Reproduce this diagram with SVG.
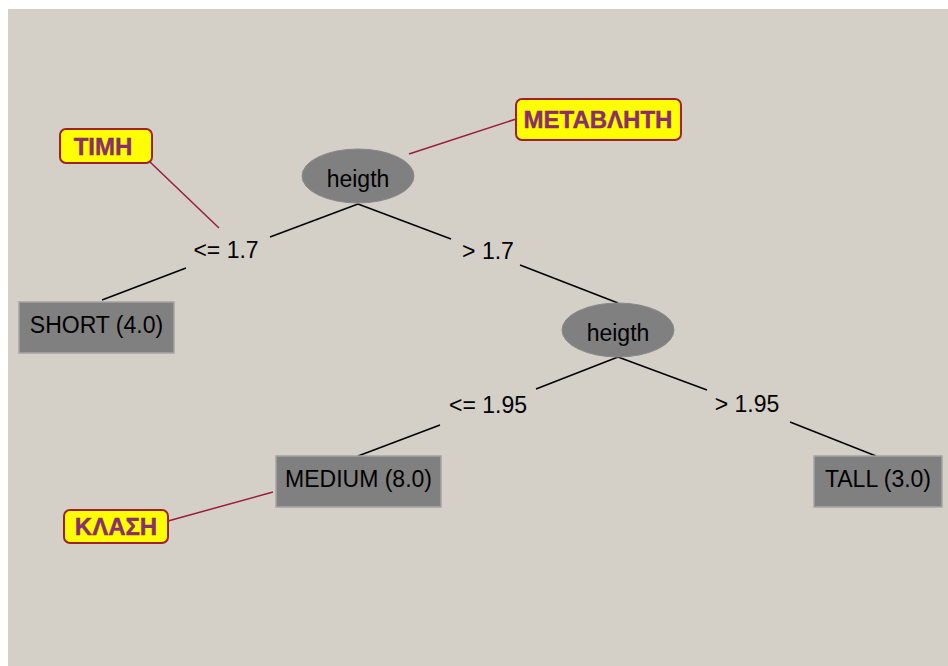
<svg xmlns="http://www.w3.org/2000/svg" width="948" height="666" viewBox="0 0 948 666">
  <style>
    .edge { stroke: #000; stroke-width: 1.5; fill: none; }
    .note-link { stroke: #9b1c3c; stroke-width: 1.5; fill: none; }
    .split { fill: #808080; stroke: #8a8a8a; stroke-width: 1; }
    .leaf { fill: #808080; stroke: #a4a4a4; stroke-width: 1.5; }
    .note { fill: #ffff00; stroke: #a0202a; stroke-width: 2; }
    .t { font-family: "Liberation Sans", Arial, sans-serif; font-size: 23px; fill: #000; text-anchor: middle; }
    .nt { font-family: "Liberation Sans", Arial, sans-serif; font-size: 24px; font-weight: bold; fill: #84307a; stroke: #a0203a; stroke-width: 0.4; text-anchor: middle; }
  </style>

  <!-- canvas -->
  <rect x="0" y="0" width="948" height="666" fill="#ffffff"/>
  <rect x="8" y="9" width="940" height="657" fill="#d4d0c8"/>

  <!-- tree edges and annotation links -->
  <g id="connectors">
    <line class="edge" x1="358" y1="204" x2="270" y2="237"/>
    <line class="edge" x1="186" y1="268" x2="102" y2="300"/>
    <line class="edge" x1="358" y1="204" x2="451" y2="239"/>
    <line class="edge" x1="520" y1="265" x2="618" y2="303"/>
    <line class="edge" x1="618" y1="357" x2="536" y2="389"/>
    <line class="edge" x1="440" y1="425" x2="358" y2="456"/>
    <line class="edge" x1="618" y1="357" x2="707" y2="390"/>
    <line class="edge" x1="790" y1="422" x2="876" y2="456"/>

    <line class="note-link" x1="150" y1="162" x2="219" y2="228"/>
    <line class="note-link" x1="409" y1="154" x2="516" y2="119"/>
    <line class="note-link" x1="168" y1="521" x2="273" y2="492"/>
  </g>

  <!-- edge labels -->
  <g id="labels">
    <text class="t" x="226" y="258">&lt;= 1.7</text>
    <text class="t" x="488" y="259">&gt; 1.7</text>
    <text class="t" x="488" y="413">&lt;= 1.95</text>
    <text class="t" x="747" y="412">&gt; 1.95</text>
  </g>

  <g id="root">
    <ellipse class="split" cx="358" cy="176" rx="56" ry="27"/>
    <text class="t" x="358" y="187">heigth</text>
  </g>

  <g id="split2">
    <ellipse class="split" cx="618" cy="330" rx="56" ry="27"/>
    <text class="t" x="618" y="341">heigth</text>
  </g>

  <g id="leaf-short">
    <rect class="leaf" x="19" y="302" width="155" height="51"/>
    <text class="t" x="96.5" y="333">SHORT (4.0)</text>
  </g>

  <g id="leaf-medium">
    <rect class="leaf" x="276" y="456" width="165" height="51"/>
    <text class="t" x="358.5" y="487">MEDIUM (8.0)</text>
  </g>

  <g id="leaf-tall">
    <rect class="leaf" x="814" y="456" width="128" height="51"/>
    <text class="t" x="878" y="487">TALL (3.0)</text>
  </g>

  <!-- annotations -->
  <g id="note-value">
    <rect class="note" x="60" y="129" width="92" height="34" rx="6"/>
    <text class="nt" x="103" y="155">ΤΙΜΗ</text>
  </g>

  <g id="note-variable">
    <rect class="note" x="516" y="99" width="165" height="41" rx="6"/>
    <text class="nt" x="598" y="128">ΜΕΤΑΒΛΗΤΗ</text>
  </g>

  <g id="note-class">
    <rect class="note" x="64" y="510" width="104" height="33" rx="6"/>
    <text class="nt" x="116" y="535">ΚΛΑΣΗ</text>
  </g>
</svg>
